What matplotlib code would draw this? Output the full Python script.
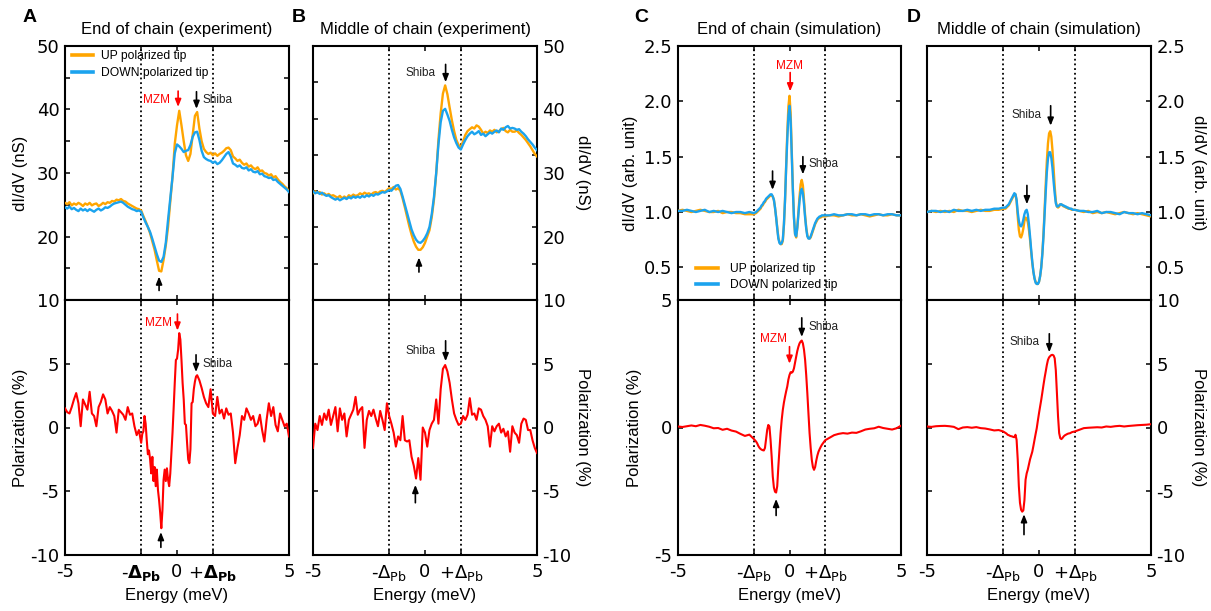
import numpy as np
import matplotlib
matplotlib.use("Agg")
import matplotlib.pyplot as plt

plt.rcParams['font.family'] = ['Liberation Sans', 'DejaVu Sans']
plt.rcParams['mathtext.fontset'] = 'dejavusans'
plt.rcParams['axes.unicode_minus'] = False

UP_COLOR = '#FFA500'
DOWN_COLOR = '#1BA3EE'
POL_COLOR = '#FF0000'

# ---------------------------------------------------------------- energies (meV)
energy_exp = np.linspace(-5.0, 5.0, 101)
energy_pol_a = np.concatenate([np.linspace(-5.0, -1.6, 35),
                               np.linspace(-1.55, 1.0, 52),
                               np.linspace(1.1, 5.0, 40)])
energy_sim = np.concatenate([np.linspace(-5.0, -1.6, 18),
                             np.linspace(-1.5, 1.5, 61),
                             np.linspace(1.6, 5.0, 18)])
delta_pb = 1.6

# ---------------------------------------------------------------- A: end of chain, experiment (nS)
a_up = [25.3, 25.1, 25.4, 24.9, 25.2, 25.0, 25.3, 25.1, 24.8, 25.2,
        25.0, 25.3, 24.9, 25.1, 25.2, 24.8, 25.0, 25.3, 25.1, 25.4,
        25.3, 25.6, 25.5, 25.8, 25.7, 25.9, 25.6, 25.5, 25.2, 25.0,
        24.8, 24.6, 24.4, 24.3, 24.1, 23.2, 22.4, 21.5, 20.5, 19.2,
        17.9, 16.2, 14.6, 14.5, 16.3, 18.6, 21.5, 25.5, 29.4, 34.6,
        37.5, 39.8, 37.5, 35.0, 32.8, 31.9, 33.0, 36.0, 39.0, 39.6,
        37.0, 35.0, 33.8, 33.3, 33.0, 33.2, 32.8, 33.1, 32.7, 33.0,
        33.2, 33.5, 33.9, 34.0, 33.6, 32.6, 32.3, 31.9, 32.1, 31.6,
        31.3, 31.5, 31.0, 31.2, 30.8, 30.6, 30.9, 30.3, 30.4, 30.0,
        29.9, 29.6, 29.8, 29.3, 29.5, 29.0, 28.6, 28.3, 27.9, 27.6,
        27.1]
a_down = [24.6, 24.4, 24.7, 24.3, 24.5, 24.2, 24.0, 24.4, 24.1, 24.3,
          24.0, 24.3, 24.1, 23.9, 24.2, 24.4, 24.1, 24.3, 24.6, 24.5,
          24.7, 25.0, 25.2, 25.3, 25.4, 25.5, 25.3, 25.0, 24.7, 24.5,
          24.3, 24.2, 24.0, 24.1, 23.9, 23.0, 22.2, 21.5, 20.7, 19.6,
          18.4, 17.2, 16.2, 16.0, 16.8, 19.0, 22.6, 26.0, 29.4, 33.1,
          34.5, 34.2, 33.8, 33.3, 33.5, 33.6, 34.4, 35.7, 36.4, 36.5,
          35.2, 33.5, 32.5, 32.2, 32.0, 31.9, 31.6, 31.8, 31.4, 31.6,
          32.0, 32.5, 33.0, 33.3, 32.6, 31.5, 31.3, 31.0, 31.2, 30.8,
          30.7, 30.9, 30.4, 30.6, 30.2, 30.1, 30.3, 29.8, 29.9, 29.5,
          29.4, 29.2, 29.3, 28.9, 29.0, 28.6, 28.3, 28.0, 27.7, 27.4,
          27.0]
a_pol = [1.5, 1.2, 1.1, 1.6, 2.2, 2.7, 1.9, 0.1, 2.2, 1.8,
         1.4, 2.8, 1.1, 0.9, 0.1, 1.6, 2.0, 2.6, 2.2, 1.1,
         1.6, 1.3, 0.9, -0.4, 1.4, 1.2, 1.0, 0.6, 1.6, 1.0,
         1.1, 0.1, -0.6, -0.2, -1.2,
         -0.5, -0.3, 0.9, 0.3, -1.0, -2.1, -1.8, -2.5, -3.6, -2.3,
         -4.2, -3.1, -4.6, -3.3, -4.9, -5.7, -6.7, -7.9, -6.5, -4.1,
         -3.3, -4.2, -3.2, -4.1, -4.6, -3.6, -2.0, -0.4, 1.5, 3.5,
         5.3, 5.4, 6.1, 7.4, 6.9, 5.3, 3.5, 2.2, 0.3, 0.2,
         -1.2, -2.5, -2.8, -1.7, 1.9, 2.0, 3.0, 3.6, 4.0, 4.1,
         3.9, 3.7,
         3.1, 2.4, 1.9, 1.6, 3.0, 1.1, 0.9, 2.4, 1.1, 1.4,
         0.7, 1.5, 1.0, 1.1, -0.4, -2.8, -1.6, -0.6, 0.9, 0.6,
         1.5, 1.1, 0.6, 0.9, 0.1, 0.3, 1.0, -0.2, -1.1, 0.6,
         1.9, 0.9, 1.6, 0.2, -0.3, 1.1, 0.6, 0.1, 0.3, -0.7]

# ---------------------------------------------------------------- B: middle of chain, experiment (nS)
b_up = [26.8, 27.1, 26.9, 27.0, 26.6, 26.8, 26.5, 26.7, 26.4, 26.5,
        26.3, 26.1, 26.4, 26.0, 26.3, 26.0, 26.5, 26.3, 26.6, 26.4,
        26.5, 26.8, 26.6, 26.9, 26.7, 26.8, 26.6, 26.9, 27.0, 26.8,
        27.1, 27.2, 27.0, 27.3, 27.6, 27.5, 27.8, 27.4, 27.6, 27.2,
        26.0, 24.6, 23.1, 21.6, 20.3, 19.2, 18.4, 17.9, 17.9, 18.3,
        19.0, 20.0, 21.0, 23.0, 25.8, 29.9, 35.2, 39.4, 42.5, 43.8,
        42.4, 40.3, 38.3, 36.6, 35.2, 34.4, 34.1, 35.0, 36.0, 36.6,
        36.9, 37.2, 37.0, 37.5, 37.3, 36.8, 36.2, 36.5, 36.3, 36.7,
        36.5, 36.8, 36.4, 36.6, 36.9, 37.1, 36.6, 36.4, 36.8, 36.5,
        36.5, 36.7, 36.3, 36.0, 35.6, 35.2, 34.7, 34.2, 33.6, 33.0,
        32.6]
b_down = [27.1, 26.8, 27.0, 26.7, 26.9, 26.6, 26.4, 26.5, 26.2, 26.0,
          25.8, 26.0, 25.7, 25.9, 26.1, 25.9, 26.2, 26.0, 26.3, 26.1,
          26.3, 26.1, 26.4, 26.2, 26.5, 26.3, 26.6, 26.4, 26.7, 26.6,
          26.8, 27.0, 26.9, 27.1, 27.3, 27.2, 27.6, 28.0, 28.1, 27.5,
          26.3, 25.0, 23.7, 22.4, 21.1, 20.2, 19.5, 19.1, 19.0, 19.3,
          19.8, 20.5, 21.5, 23.5, 26.2, 30.0, 34.5, 38.0, 39.8, 40.1,
          39.2, 38.2, 36.8, 35.6, 34.7, 34.0, 33.7, 34.5, 35.2, 35.8,
          36.2, 36.5, 36.1, 36.3, 36.6, 36.0, 36.2, 35.8, 36.1, 36.4,
          36.2, 36.5, 36.7, 36.4, 37.0, 36.8, 37.2, 37.4, 37.0, 37.1,
          37.0, 36.8, 36.9, 36.5, 36.2, 35.8, 35.3, 34.9, 34.5, 34.0,
          33.6]
b_pol = [-1.6, 0.3, -0.2, 0.9, 0.2, 1.1, 0.6, 1.4, 0.2, 0.9,
         1.6, -0.3, 1.5, 0.6, 1.1, -0.7, 0.6, 1.0, 1.4, 2.4,
         1.0, 1.4, 1.6, -1.6, 0.6, 1.3, 0.9, 1.4, 0.7, 0.1,
         1.3, 0.6, -0.2, 1.9, 0.9, 0.3, -0.4, -1.5, -0.7, -1.0,
         0.9, -1.0, -1.1, -1.0, -2.3, -3.0, -4.0, -2.4, -4.1, 0.0,
         -0.4, -1.5, -0.2, 0.3, 0.6, 2.2, 0.3, 3.0, 4.6, 4.9,
         4.4, 3.5, 2.2, 1.1, 0.6, 0.2, 0.3, 0.9, 0.6, 1.0,
         2.3, 1.0, 1.1, 0.6, 1.5, 1.4, 0.9, 0.6, 0.1, -1.5,
         0.1, -0.3, 0.1, 0.3, -0.4, -0.1, -0.7, -0.3, -1.9, 0.1,
         -0.4, -0.6, -1.2, 0.3, 0.7, 0.6, -0.2, -0.2, -1.0, -1.6,
         -2.0]

# ---------------------------------------------------------------- C: end of chain, simulation (arb. unit)
c_up = [1.01, 1.02, 1.01, 1.00, 1.01, 1.02, 1.01, 1.00, 1.00, 1.01,
        0.99, 1.00, 1.00, 0.99, 0.99, 0.98, 0.98, 0.98,
        0.99, 1.00, 1.01, 1.02, 1.03, 1.05, 1.06, 1.08, 1.09, 1.11,
        1.12, 1.13, 1.14, 1.15, 1.15, 1.14, 1.11, 1.04, 0.955, 0.86,
        0.77, 0.73, 0.71, 0.71, 0.74, 0.88, 1.11, 1.42, 1.71, 1.95,
        2.05, 1.90, 1.56, 1.22, 0.955, 0.80, 0.77, 0.86, 1.00, 1.14,
        1.25, 1.29, 1.24, 1.11, 0.97, 0.86, 0.79, 0.765, 0.76, 0.77,
        0.80, 0.83, 0.86, 0.89, 0.91, 0.93, 0.94, 0.95, 0.95, 0.96,
        0.96,
        0.96, 0.97, 0.97, 0.96, 0.97, 0.98, 0.97, 0.97, 0.98, 0.97,
        0.96, 0.97, 0.98, 0.97, 0.97, 0.98, 0.97, 0.97]
c_down = [1.01, 1.01, 1.02, 1.01, 1.00, 1.01, 1.02, 1.00, 1.01, 1.00,
          1.01, 1.00, 0.99, 1.00, 1.00, 0.99, 1.00, 0.99,
          1.00, 1.01, 1.02, 1.03, 1.04, 1.06, 1.07, 1.09, 1.10, 1.12,
          1.13, 1.14, 1.15, 1.16, 1.16, 1.14, 1.11, 1.04, 0.95, 0.85,
          0.76, 0.72, 0.71, 0.72, 0.75, 0.89, 1.11, 1.40, 1.66, 1.87,
          1.96, 1.83, 1.52, 1.20, 0.95, 0.80, 0.78, 0.86, 0.98, 1.10,
          1.18, 1.21, 1.17, 1.07, 0.95, 0.85, 0.78, 0.76, 0.76, 0.78,
          0.81, 0.84, 0.87, 0.90, 0.92, 0.94, 0.95, 0.96, 0.96, 0.97,
          0.97,
          0.97, 0.97, 0.98, 0.97, 0.97, 0.98, 0.98, 0.97, 0.98, 0.98,
          0.97, 0.98, 0.98, 0.97, 0.98, 0.98, 0.97, 0.97]
c_pol = [0.04, 0.02, 0.05, 0.08, 0.05, 0.10, 0.07, 0.03, -0.03, -0.02,
         -0.09, -0.05, -0.12, -0.16, -0.25, -0.33, -0.28, -0.45,
         -0.55, -0.62, -0.72, -0.79, -0.84, -0.87, -0.89, -0.90, -0.80, -0.45,
         -0.09, 0.10, 0.04, -0.48, -1.14, -1.92, -2.35, -2.52, -2.55, -2.30,
         -1.53, -0.85, -0.22, 0.30, 0.69, 0.98, 1.21, 1.42, 1.61, 1.88,
         2.06, 2.17, 2.15, 2.19, 2.32, 2.55, 2.78, 3.00, 3.17, 3.30,
         3.37, 3.41, 3.30, 3.05, 2.65, 2.05, 1.34, 0.55, -0.22, -0.80,
         -1.27, -1.55, -1.66, -1.55, -1.30, -1.10, -0.95, -0.85, -0.76, -0.68,
         -0.62,
         -0.50, -0.40, -0.30, -0.25, -0.22, -0.24, -0.20, -0.21, -0.15, -0.08,
         -0.05, -0.03, 0.03, -0.02, -0.05, -0.08, -0.03, 0.07]

# ---------------------------------------------------------------- D: middle of chain, simulation (arb. unit)
d_up = [1.00, 1.01, 1.00, 1.01, 1.00, 1.01, 1.00, 1.02, 1.01, 1.01,
        1.00, 1.01, 1.02, 1.01, 1.01, 1.02, 1.02, 1.03,
        1.03, 1.04, 1.05, 1.06, 1.08, 1.10, 1.12, 1.14, 1.16, 1.16,
        1.10, 0.96, 0.84, 0.78, 0.77, 0.80, 0.85, 0.92, 0.95, 0.94,
        0.91, 0.84, 0.75, 0.64, 0.54, 0.46, 0.40, 0.37, 0.35, 0.35,
        0.37, 0.42, 0.50, 0.63, 0.80, 1.02, 1.25, 1.46, 1.62, 1.71,
        1.73, 1.68, 1.56, 1.40, 1.23, 1.10, 1.05, 1.04, 1.05, 1.07,
        1.07, 1.06, 1.05, 1.05, 1.04, 1.04, 1.03, 1.03, 1.03, 1.02,
        1.02,
        1.02, 1.01, 1.00, 1.01, 0.99, 1.00, 0.99, 1.00, 0.99, 0.98,
        0.99, 1.00, 0.99, 0.98, 0.99, 0.98, 0.97, 0.96]
d_down = [1.00, 1.01, 1.01, 1.00, 1.01, 1.00, 1.02, 1.01, 1.01, 1.02,
          1.01, 1.02, 1.01, 1.02, 1.02, 1.03, 1.03, 1.04,
          1.04, 1.05, 1.06, 1.07, 1.09, 1.11, 1.13, 1.15, 1.17, 1.16,
          1.11, 1.00, 0.92, 0.88, 0.87, 0.89, 0.93, 0.98, 1.01, 1.02,
          0.98, 0.89, 0.78, 0.66, 0.55, 0.46, 0.40, 0.36, 0.35, 0.35,
          0.37, 0.42, 0.50, 0.62, 0.78, 0.98, 1.18, 1.36, 1.48, 1.54,
          1.54, 1.49, 1.40, 1.28, 1.17, 1.08, 1.05, 1.05, 1.06, 1.07,
          1.07, 1.06, 1.06, 1.05, 1.05, 1.04, 1.04, 1.03, 1.03, 1.03,
          1.02,
          1.02, 1.01, 1.01, 1.00, 1.00, 1.01, 0.99, 1.00, 1.00, 0.99,
          0.98, 1.00, 0.99, 0.99, 0.98, 0.99, 0.98, 0.97]
d_pol = [0.08, 0.05, 0.10, 0.12, 0.13, 0.10, 0.05, -0.13, 0.00, 0.03,
         -0.02, 0.03, -0.05, -0.08, -0.15, -0.23, -0.20, -0.31,
         -0.42, -0.48, -0.57, -0.60, -0.65, -0.68, -0.70, -0.74, -0.76, -0.57,
         -0.97, -2.50, -4.60, -5.90, -6.45, -6.60, -6.50, -5.70, -4.10, -3.60,
         -3.30, -2.90, -2.50, -2.20, -1.90, -1.45, -0.97, -0.50, -0.05, 0.55,
         1.12, 1.65, 2.17, 2.75, 3.34, 3.90, 4.39, 4.90, 5.30, 5.50,
         5.60, 5.68, 5.70, 5.65, 5.43, 4.50, 2.70, 0.86, -0.44, -0.84,
         -0.91, -0.82, -0.70, -0.62, -0.57, -0.52, -0.48, -0.46, -0.44, -0.38,
         -0.35,
         -0.31, -0.18, -0.05, -0.02, 0.00, 0.02, 0.00, 0.08, 0.05, 0.10,
         0.13, 0.08, 0.12, 0.15, 0.18, 0.20, 0.22, 0.26]

# ---------------------------------------------------------------- layout
W, H = 1211, 611
fig = plt.figure(figsize=(W / 100, H / 100), dpi=100)


def px_axes(x0, x1, y0, y1):
    return fig.add_axes([x0 / W, 1 - y1 / H, (x1 - x0) / W, (y1 - y0) / H])


cols = {'A': (65, 289), 'B': (313, 537), 'C': (678, 901), 'D': (927, 1151)}
top_rows, bot_rows = (46, 300), (300, 555)

TICK_FONT = 'DejaVu Sans'


def base_style(ax):
    for s in ax.spines.values():
        s.set_linewidth(1.5)
    ax.set_xlim(-5, 5)
    ax.tick_params(which='both', direction='in', top=True, right=True,
                   length=3.5, width=1.1, labelsize=13,
                   labelfontfamily=TICK_FONT, pad=4)
    ax.set_xticks([-5, -delta_pb, 0, delta_pb, 5])
    for xv in (-delta_pb, delta_pb):
        ax.axvline(xv, color='black', lw=1.3, ls=(0, (1, 1.6)), zorder=1)


def x_labels(ax, bold):
    if bold:
        lbl = ['-5', r'-$\boldsymbol{\Delta}_{\mathbf{Pb}}$', '0',
               r'+$\boldsymbol{\Delta}_{\mathbf{Pb}}$', '5']
    else:
        lbl = ['-5', r'-$\Delta_{\mathrm{Pb}}$', '0', r'+$\Delta_{\mathrm{Pb}}$', '5']
    ax.set_xticklabels(lbl)
    ax.tick_params(axis='x', pad=6)
    ax.set_xlabel('Energy (meV)', fontsize=12, va='center')
    ax.xaxis.set_label_coords(0.5, -0.157)


def y_side(ax, side, label, xcoord):
    if side == 'left':
        ax.tick_params(axis='y', labelleft=True, labelright=False)
        ax.set_ylabel(label, fontsize=12, va='center', rotation=90)
    else:
        ax.tick_params(axis='y', labelleft=False, labelright=True)
        ax.yaxis.set_label_position('right')
        ax.set_ylabel(label, fontsize=12, va='center', rotation=270)
    ax.yaxis.set_label_coords(xcoord, 0.5)


def arrow(ax, x, y_tail, y_head, color='black'):
    ax.annotate('', xy=(x, y_head), xytext=(x, y_tail),
                arrowprops=dict(arrowstyle='-|>,head_length=0.45,head_width=0.18',
                                color=color, lw=1.2, shrinkA=0, shrinkB=0,
                                mutation_scale=10), zorder=6)


def note(ax, x, y, text, ha, color='#222222'):
    ax.text(x, y, text, ha=ha, va='center', fontsize=8.5, color=color, zorder=6)


def title(ax, text, letter, letter_x):
    ax.text(0.5, 1.063, text, transform=ax.transAxes, ha='center', va='center',
            fontsize=12)
    fig.text(letter_x / W, 1 - 9 / H, letter, ha='left', va='top',
             fontsize=14, fontweight='bold')


def spectra(ax, x, up, down):
    ax.plot(x, up, color=UP_COLOR, lw=1.7, zorder=3, label='UP polarized tip')
    ax.plot(x, down, color=DOWN_COLOR, lw=1.7, zorder=4, label='DOWN polarized tip')


# ---- A
axA = px_axes(*cols['A'], *top_rows)
base_style(axA)
spectra(axA, energy_exp, a_up, a_down)
axA.set_ylim(10, 50)
axA.set_yticks([10, 20, 30, 40, 50])
axA.set_yticklabels(['', '20', '30', '40', '50'])
axA.set_yticks([15, 25, 35, 45], minor=True)
axA.tick_params(axis='x', labelbottom=False)
y_side(axA, 'left', 'dI/dV (nS)', -0.2)
title(axA, 'End of chain (experiment)', 'A', 23)
leg = axA.legend(loc='upper left', bbox_to_anchor=(0.03, 0.985), frameon=False,
                 fontsize=8.7, handlelength=1.8, handletextpad=0.6,
                 labelspacing=0.45, borderpad=0, borderaxespad=0)
for ln in leg.get_lines():
    ln.set_linewidth(2.6)
note(axA, -0.31, 41.5, 'MZM', 'right', POL_COLOR)
arrow(axA, 0.05, 42.9, 40.4, POL_COLOR)
arrow(axA, 0.87, 42.8, 40.1)
note(axA, 1.15, 41.5, 'Shiba', 'left')
arrow(axA, -0.8, 11.5, 13.7)

axA2 = px_axes(*cols['A'], *bot_rows)
base_style(axA2)
axA2.plot(energy_pol_a, a_pol, color=POL_COLOR, lw=1.5, zorder=3)
axA2.set_ylim(-10, 10)
axA2.set_yticks([-10, -5, 0, 5, 10])
x_labels(axA2, bold=True)
y_side(axA2, 'left', 'Polarization (%)', -0.2)
note(axA2, -0.22, 8.2, 'MZM', 'right', POL_COLOR)
arrow(axA2, 0.02, 8.9, 7.6, POL_COLOR)
arrow(axA2, 0.85, 5.7, 4.35)
note(axA2, 1.15, 5.0, 'Shiba', 'left')
arrow(axA2, -0.72, -9.4, -8.2)

# ---- B
axB = px_axes(*cols['B'], *top_rows)
base_style(axB)
spectra(axB, energy_exp, b_up, b_down)
axB.set_ylim(10, 50)
axB.set_yticks([10, 20, 30, 40, 50])
axB.set_yticklabels(['', '20', '30', '40', '50'])
axB.tick_params(axis='y', which='major', length=0)
axB.set_yticks(np.linspace(10, 50, 8), minor=True)
axB.tick_params(axis='x', labelbottom=False)
y_side(axB, 'right', 'dI/dV (nS)', 1.205)
title(axB, 'Middle of chain (experiment)', 'B', 292)
note(axB, 0.49, 45.8, 'Shiba', 'right')
arrow(axB, 0.92, 47.1, 44.3)
arrow(axB, -0.27, 14.4, 16.7)

axB2 = px_axes(*cols['B'], *bot_rows)
base_style(axB2)
axB2.plot(energy_exp, b_pol, color=POL_COLOR, lw=1.5, zorder=3)
axB2.set_ylim(-10, 10)
axB2.set_yticks([-10, -5, 0, 5, 10])
x_labels(axB2, bold=False)
y_side(axB2, 'right', 'Polarization (%)', 1.205)
note(axB2, 0.49, 6.0, 'Shiba', 'right')
arrow(axB2, 0.92, 6.8, 5.2)
arrow(axB2, -0.43, -5.9, -4.5)

# ---- C
axC = px_axes(*cols['C'], *top_rows)
base_style(axC)
spectra(axC, energy_sim, c_up, c_down)
axC.set_ylim(0.205, 2.5)
axC.set_yticks([0.5, 1.0, 1.5, 2.0, 2.5])
axC.set_yticklabels(['0.5', '1.0', '1.5', '2.0', '2.5'])
axC.tick_params(axis='x', labelbottom=False)
y_side(axC, 'left', 'dI/dV (arb. unit)', -0.215)
title(axC, 'End of chain (simulation)', 'C', 634)
legC = axC.legend(loc='lower left', bbox_to_anchor=(0.08, 0.035), frameon=False,
                  fontsize=8.7, handlelength=1.8, handletextpad=1.0,
                  labelspacing=0.35, borderpad=0, borderaxespad=0)
for ln in legC.get_lines():
    ln.set_linewidth(2.6)
note(axC, 0.0, 2.32, 'MZM', 'center', POL_COLOR)
arrow(axC, 0.03, 2.26, 2.09, POL_COLOR)
arrow(axC, 0.6, 1.5, 1.34)
note(axC, 0.87, 1.43, 'Shiba', 'left')
arrow(axC, -0.76, 1.37, 1.2)

axC2 = px_axes(*cols['C'], *bot_rows)
base_style(axC2)
axC2.plot(energy_sim, c_pol, color=POL_COLOR, lw=1.5, zorder=3)
axC2.set_ylim(-5, 5)
axC2.set_yticks([-5, 0, 5])
x_labels(axC2, bold=False)
y_side(axC2, 'left', 'Polarization (%)', -0.195)
arrow(axC2, 0.55, 4.3, 3.55)
note(axC2, 0.87, 3.93, 'Shiba', 'left')
note(axC2, -0.13, 3.46, 'MZM', 'right', POL_COLOR)
arrow(axC2, 0.0, 3.17, 2.5, POL_COLOR)
arrow(axC2, -0.6, -3.45, -2.8)

# ---- D
axD = px_axes(*cols['D'], *top_rows)
base_style(axD)
spectra(axD, energy_sim, d_up, d_down)
axD.set_ylim(0.205, 2.5)
axD.set_yticks([0.5, 1.0, 1.5, 2.0, 2.5])
axD.set_yticklabels(['0.5', '1.0', '1.5', '2.0', '2.5'])
axD.tick_params(axis='x', labelbottom=False)
y_side(axD, 'right', 'dI/dV (arb. unit)', 1.21)
title(axD, 'Middle of chain (simulation)', 'D', 907)
note(axD, 0.12, 1.88, 'Shiba', 'right')
arrow(axD, 0.52, 1.96, 1.78)
arrow(axD, -0.54, 1.24, 1.07)

axD2 = px_axes(*cols['D'], *bot_rows)
base_style(axD2)
axD2.plot(energy_sim, d_pol, color=POL_COLOR, lw=1.5, zorder=3)
axD2.set_ylim(-10, 10)
axD2.set_yticks([-10, -5, 0, 5, 10])
x_labels(axD2, bold=False)
y_side(axD2, 'right', 'Polarization (%)', 1.21)
note(axD2, 0.04, 6.7, 'Shiba', 'right')
arrow(axD2, 0.46, 7.35, 5.9)
arrow(axD2, -0.67, -8.4, -6.8)

fig.savefig('out.png', dpi=100)
